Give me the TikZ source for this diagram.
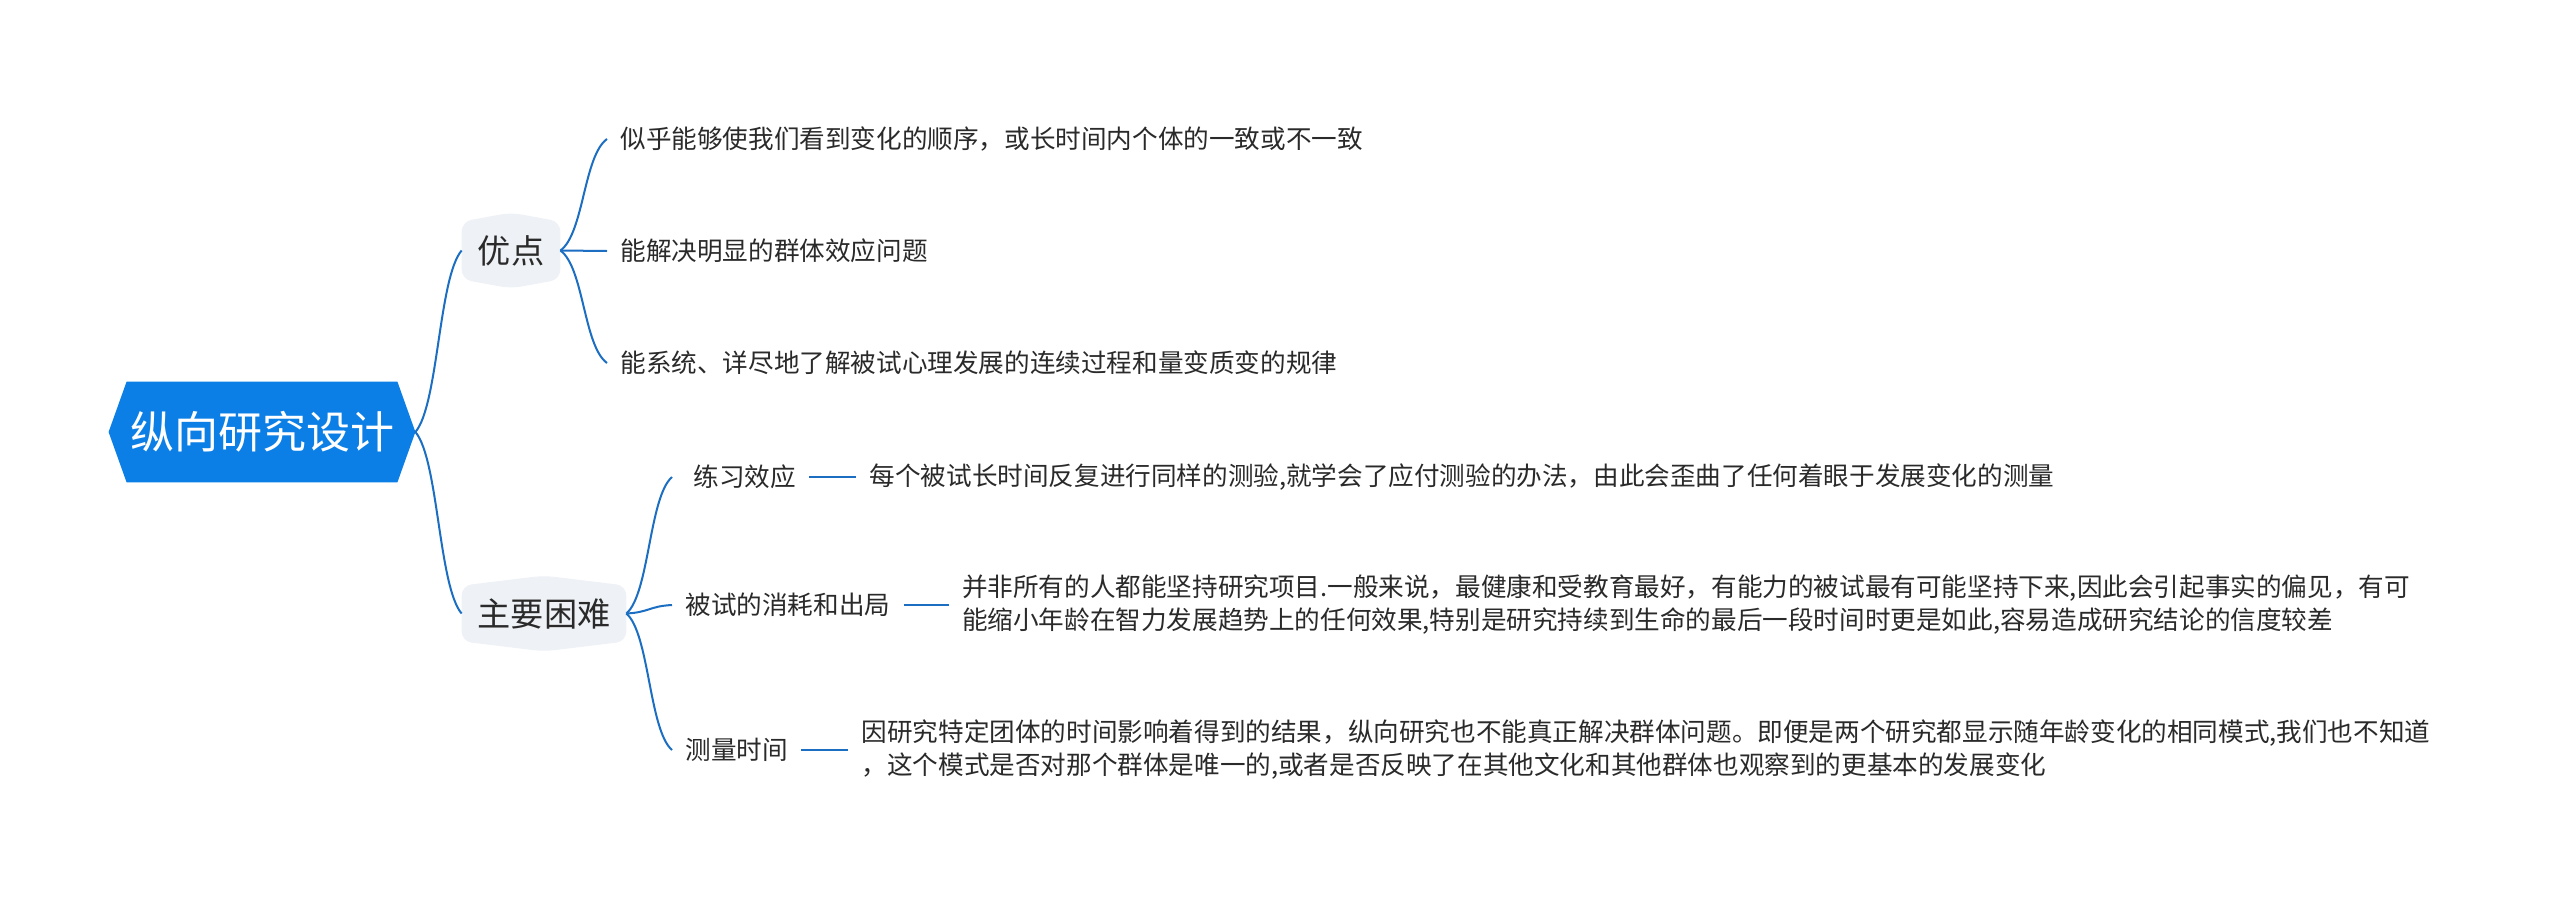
\documentclass[tikz,border=0pt]{standalone}
\usepackage{fontspec}
\setmainfont{Noto Sans CJK SC}
\usetikzlibrary{calc,backgrounds}
\definecolor{rootblue}{HTML}{0B7FE6}
\definecolor{linkblue}{HTML}{1B6EC2}
\definecolor{lvlgray}{HTML}{EEF1F5}
\definecolor{txtgray}{HTML}{2A2A2A}
\begin{document}
\begin{tikzpicture}[x=0.5pt,y=-0.5pt,
  link/.style={draw=linkblue,line width=1pt},
  roottext/.style={inner sep=0pt,minimum width=135pt,minimum height=50pt,text=white,font=\fontsize{22}{26}\selectfont},
  lvltext/.style={inner sep=0pt,minimum height=37.5pt,text=txtgray,font=\fontsize{16.6}{20}\selectfont},
  leaf/.style={anchor=west,inner xsep=6.5pt,inner ysep=2pt,text=txtgray,font=\fontsize{12.8}{16.5}\selectfont,align=left},
]
\useasboundingbox (0,0) rectangle (2560,905);

\node[roottext] (root) at (262,432) {纵向研究设计};
\coordinate (rootR) at ($(root.east)+(18,0)$);
\coordinate (rootL) at ($(root.west)+(-18,0)$);

\node[lvltext,minimum width=49pt] (adv) at (511,250.5) {优点};
\node[lvltext,minimum width=82pt] (diff) at (544,613.5) {主要困难};

\node[leaf] (a1) at (607,139) {似乎能够使我们看到变化的顺序，或长时间内个体的一致或不一致};
\node[leaf] (a2) at (607,251) {能解决明显的群体效应问题};
\node[leaf] (a3) at (607,363) {能系统、详尽地了解被试心理发展的连续过程和量变质变的规律};

\node[leaf] (b1) at (672,477) {\hspace*{4pt}练习效应};
\node[leaf] (b2) at (672,605) {被试的消耗和出局};
\node[leaf] (b3) at (672,750) {测量时间};

\node[leaf] (b1d) at ($(b1.east)+(47,0)$) {每个被试长时间反复进行同样的测验,就学会了应付测验的办法，由此会歪曲了任何着眼于发展变化的测量};
\node[leaf] (b2d) at ($(b2.east)+(45,0)$) {并非所有的人都能坚持研究项目.一般来说，最健康和受教育最好，有能力的被试最有可能坚持下来,因此会引起事实的偏见，有可\\能缩小年龄在智力发展趋势上的任何效果,特别是研究持续到生命的最后一段时间时更是如此,容易造成研究结论的信度较差};
\node[leaf] (b3d) at ($(b3.east)+(47,0)$) {因研究特定团体的时间影响着得到的结果，纵向研究也不能真正解决群体问题。即便是两个研究都显示随年龄变化的相同模式,我们也不知道\\，这个模式是否对那个群体是唯一的,或者是否反映了在其他文化和其他群体也观察到的更基本的发展变化};

\begin{scope}[on background layer]
\fill[white] (0,0) rectangle (2560,905);
\fill[rootblue] (rootL) -- (root.north west) -- (root.north east) -- (rootR) -- (root.south east) -- (root.south west) -- cycle;
\fill[lvlgray,rounded corners=5pt] (adv.north) -- ($(adv.north east)+(0,9)$) -- ($(adv.south east)+(0,-9)$) -- (adv.south) -- ($(adv.south west)+(0,-9)$) -- ($(adv.north west)+(0,9)$) -- cycle;
\fill[lvlgray,rounded corners=5pt] (diff.north) -- ($(diff.north east)+(0,10)$) -- ($(diff.south east)+(0,-10)$) -- (diff.south) -- ($(diff.south west)+(0,-10)$) -- ($(diff.north west)+(0,10)$) -- cycle;
\end{scope}

\draw[link] (rootR) .. controls +(23,-27) and +(-23,27) .. (adv.west);
\draw[link] (rootR) .. controls +(23,27) and +(-23,-27) .. (diff.west);
\draw[link] (adv.east) .. controls +(23.5,-17) and +(-23.5,17) .. (a1.west);
\draw[link] (adv.east) -- (a2.west);
\draw[link] (adv.east) .. controls +(23.5,17) and +(-23.5,-17) .. (a3.west);
\draw[link] (diff.east) .. controls +(23,-20) and +(-23,20) .. (b1.west);
\draw[link] (diff.east) .. controls +(23,-1.2) and +(-23,1.2) .. (b2.west);
\draw[link] (diff.east) .. controls +(23,20) and +(-23,-20) .. (b3.west);
\draw[link] (b1.east) -- (b1d.west);
\draw[link] (b2.east) -- (b2d.west);
\draw[link] (b3.east) -- (b3d.west);
\end{tikzpicture}
\end{document}
